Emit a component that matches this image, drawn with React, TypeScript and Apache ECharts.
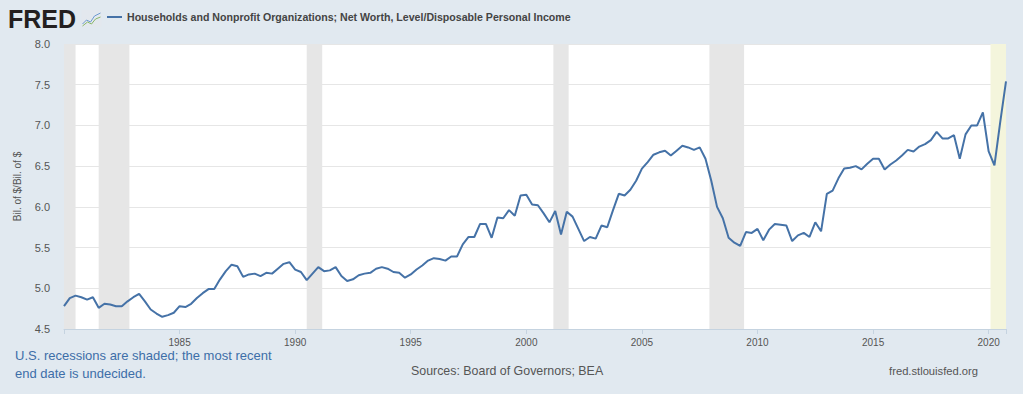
import React, { useEffect, useRef } from "react";
import * as echarts from "echarts";

// Quarterly series, 1980 Q1 .. 2020 Q4
const startYear = 1980;
const ratioValues: number[] = [
  // 1980
  4.78, 4.88, 4.91, 4.89,
  // 1981
  4.86, 4.89, 4.76, 4.81,
  // 1982
  4.80, 4.78, 4.78, 4.84,
  // 1983
  4.89, 4.93, 4.84, 4.74,
  // 1984
  4.69, 4.65, 4.67, 4.70,
  // 1985
  4.78, 4.77, 4.81, 4.88,
  // 1986
  4.94, 4.99, 4.99, 5.11,
  // 1987
  5.21, 5.29, 5.27, 5.14,
  // 1988
  5.17, 5.18, 5.15, 5.19,
  // 1989
  5.18, 5.24, 5.30, 5.32,
  // 1990
  5.23, 5.20, 5.10, 5.18,
  // 1991
  5.26, 5.21, 5.22, 5.26,
  // 1992
  5.15, 5.09, 5.11, 5.16,
  // 1993
  5.18, 5.19, 5.24, 5.26,
  // 1994
  5.24, 5.20, 5.19, 5.13,
  // 1995
  5.17, 5.23, 5.28, 5.34,
  // 1996
  5.37, 5.36, 5.34, 5.39,
  // 1997
  5.39, 5.54, 5.63, 5.63,
  // 1998
  5.79, 5.79, 5.62, 5.87,
  // 1999
  5.86, 5.96, 5.89, 6.14,
  // 2000
  6.15, 6.03, 6.02, 5.92,
  // 2001
  5.81, 5.95, 5.66, 5.94,
  // 2002
  5.88, 5.73, 5.58, 5.63,
  // 2003
  5.61, 5.77, 5.75, 5.96,
  // 2004
  6.16, 6.14, 6.21, 6.32,
  // 2005
  6.47, 6.55, 6.64, 6.67,
  // 2006
  6.69, 6.63, 6.69, 6.75,
  // 2007
  6.73, 6.70, 6.73, 6.59,
  // 2008
  6.32, 6.00, 5.86, 5.62,
  // 2009
  5.56, 5.52, 5.69, 5.68,
  // 2010
  5.73, 5.59, 5.72, 5.79,
  // 2011
  5.78, 5.77, 5.58, 5.65,
  // 2012
  5.68, 5.63, 5.81, 5.70,
  // 2013
  6.16, 6.20, 6.35, 6.47,
  // 2014
  6.48, 6.50, 6.46, 6.53,
  // 2015
  6.59, 6.59, 6.46, 6.52,
  // 2016
  6.57, 6.63, 6.70, 6.68,
  // 2017
  6.74, 6.77, 6.82, 6.92,
  // 2018
  6.84, 6.84, 6.88, 6.59,
  // 2019
  6.89, 7.00, 7.00, 7.16,
  // 2020
  6.68, 6.51, 7.04, 7.54,
];

// Recessions as [start, end] decimal years
const recessions: [number, number][] = [
  [1980.0, 1980.5],
  [1981.5, 1982.83],
  [1990.5, 1991.17],
  [2001.17, 2001.83],
  [2007.92, 2009.42],
];
const currentRecession: [number, number] = [2020.08, 2020.75];

const yTicks = [4.5, 5.0, 5.5, 6.0, 6.5, 7.0, 7.5, 8.0];
const xTickYears = [1985, 1990, 1995, 2000, 2005, 2010, 2015, 2020];

const seriesTitle =
  "Households and Nonprofit Organizations; Net Worth, Level/Disposable Personal Income";
const yAxisName = "Bil. of $/Bil. of $";
const noteLine1 = "U.S. recessions are shaded; the most recent";
const noteLine2 = "end date is undecided.";
const sourceText = "Sources: Board of Governors; BEA";
const siteText = "fred.stlouisfed.org";

export default function App() {
  const ref = useRef<HTMLDivElement>(null);

  useEffect(() => {
    if (!ref.current) return;
    const chart = echarts.init(ref.current, undefined, { renderer: "svg" });
    const data = ratioValues.map((v, i) => [startYear + i * 0.25, v]);
    const font = "'Liberation Sans', Arial, sans-serif";

    chart.setOption({
      animation: false,
      backgroundColor: "#e1e9f0",
      textStyle: { fontFamily: font },
      grid: { left: 64, right: 17, top: 44, bottom: 65, containLabel: false, show: true, backgroundColor: "#ffffff", borderWidth: 0 },
      xAxis: {
        type: "value",
        min: 1980,
        max: 2020.75,
        interval: 5,
        axisLine: { show: true, lineStyle: { color: "#c5d3e0", width: 1 } },
        axisTick: { show: true, length: 5, lineStyle: { color: "#c5d3e0" } },
        splitLine: { show: false },
        axisLabel: {
          color: "#555555",
          fontSize: 10,
          margin: 8,
          formatter: (v: number) => (xTickYears.indexOf(Math.round(v)) >= 0 ? String(Math.round(v)) : ""),
        },
      },
      yAxis: {
        type: "value",
        min: yTicks[0],
        max: yTicks[yTicks.length - 1],
        interval: 0.5,
        name: yAxisName,
        nameLocation: "middle",
        nameGap: 42,
        nameTextStyle: { color: "#555555", fontSize: 10 },
        axisLine: { show: false },
        axisTick: { show: false },
        axisLabel: { color: "#555555", fontSize: 11, margin: 14, formatter: (v: number) => v.toFixed(1) },
        splitLine: { show: true, lineStyle: { color: "#e6e6e6", width: 1 } },
      },
      series: [
        {
          type: "line",
          data,
          showSymbol: false,
          symbol: "none",
          lineStyle: { color: "#4572a7", width: 2 },
          itemStyle: { color: "#4572a7" },
          z: 3,
          markArea: {
            silent: true,
            itemStyle: { color: "#e6e6e6" },
            data: [
              ...recessions.map(([a, b]) => [{ xAxis: a }, { xAxis: b }]),
              [
                { xAxis: currentRecession[0], itemStyle: { color: "#f4f5dc" } },
                { xAxis: currentRecession[1] },
              ],
            ],
          },
        },
      ],
      graphic: [
        {
          type: "text",
          left: 8,
          top: 6,
          style: { text: "FRED", font: `bold 25px ${font}`, fill: "#231f20" },
        },
        {
          type: "group",
          left: 80,
          top: 10,
          children: [
            { type: "rect", shape: { x: 0, y: 0, width: 20, height: 17, r: 1 }, style: { fill: "#e3e8ee" } },
            { type: "polyline", shape: { points: [[1, 14], [5, 10], [9, 12], [13, 6], [19, 3]] }, style: { stroke: "#6d9ad0", lineWidth: 1, fill: "none" } },
            { type: "polyline", shape: { points: [[1, 16], [6, 12], [10, 14], [14, 9], [19, 7]] }, style: { stroke: "#8ab86a", lineWidth: 1, fill: "none" } },
          ],
        },
        {
          type: "line",
          shape: { x1: 107, y1: 17, x2: 122, y2: 17 },
          style: { stroke: "#4572a7", lineWidth: 2 },
        },
        {
          type: "text",
          left: 127,
          top: 11,
          style: { text: seriesTitle, font: `bold 10.6px ${font}`, fill: "#444444" },
        },
        {
          type: "text",
          left: 15,
          top: 346,
          style: { text: noteLine1 + "\n" + noteLine2, font: `13px ${font}`, fill: "#3d6ea8", lineHeight: 18 },
        },
        {
          type: "text",
          left: 411,
          top: 365,
          style: { text: sourceText, font: `12.4px ${font}`, fill: "#555555" },
        },
        {
          type: "text",
          right: 45,
          top: 365,
          style: { text: siteText, font: `11.2px ${font}`, fill: "#555555" },
        },
      ],
    });
    return () => chart.dispose();
  }, []);

  return (
    <div
      ref={ref}
      style={{ position: "fixed", left: 0, top: 0, width: 1023, height: 394 }}
    />
  );
}
